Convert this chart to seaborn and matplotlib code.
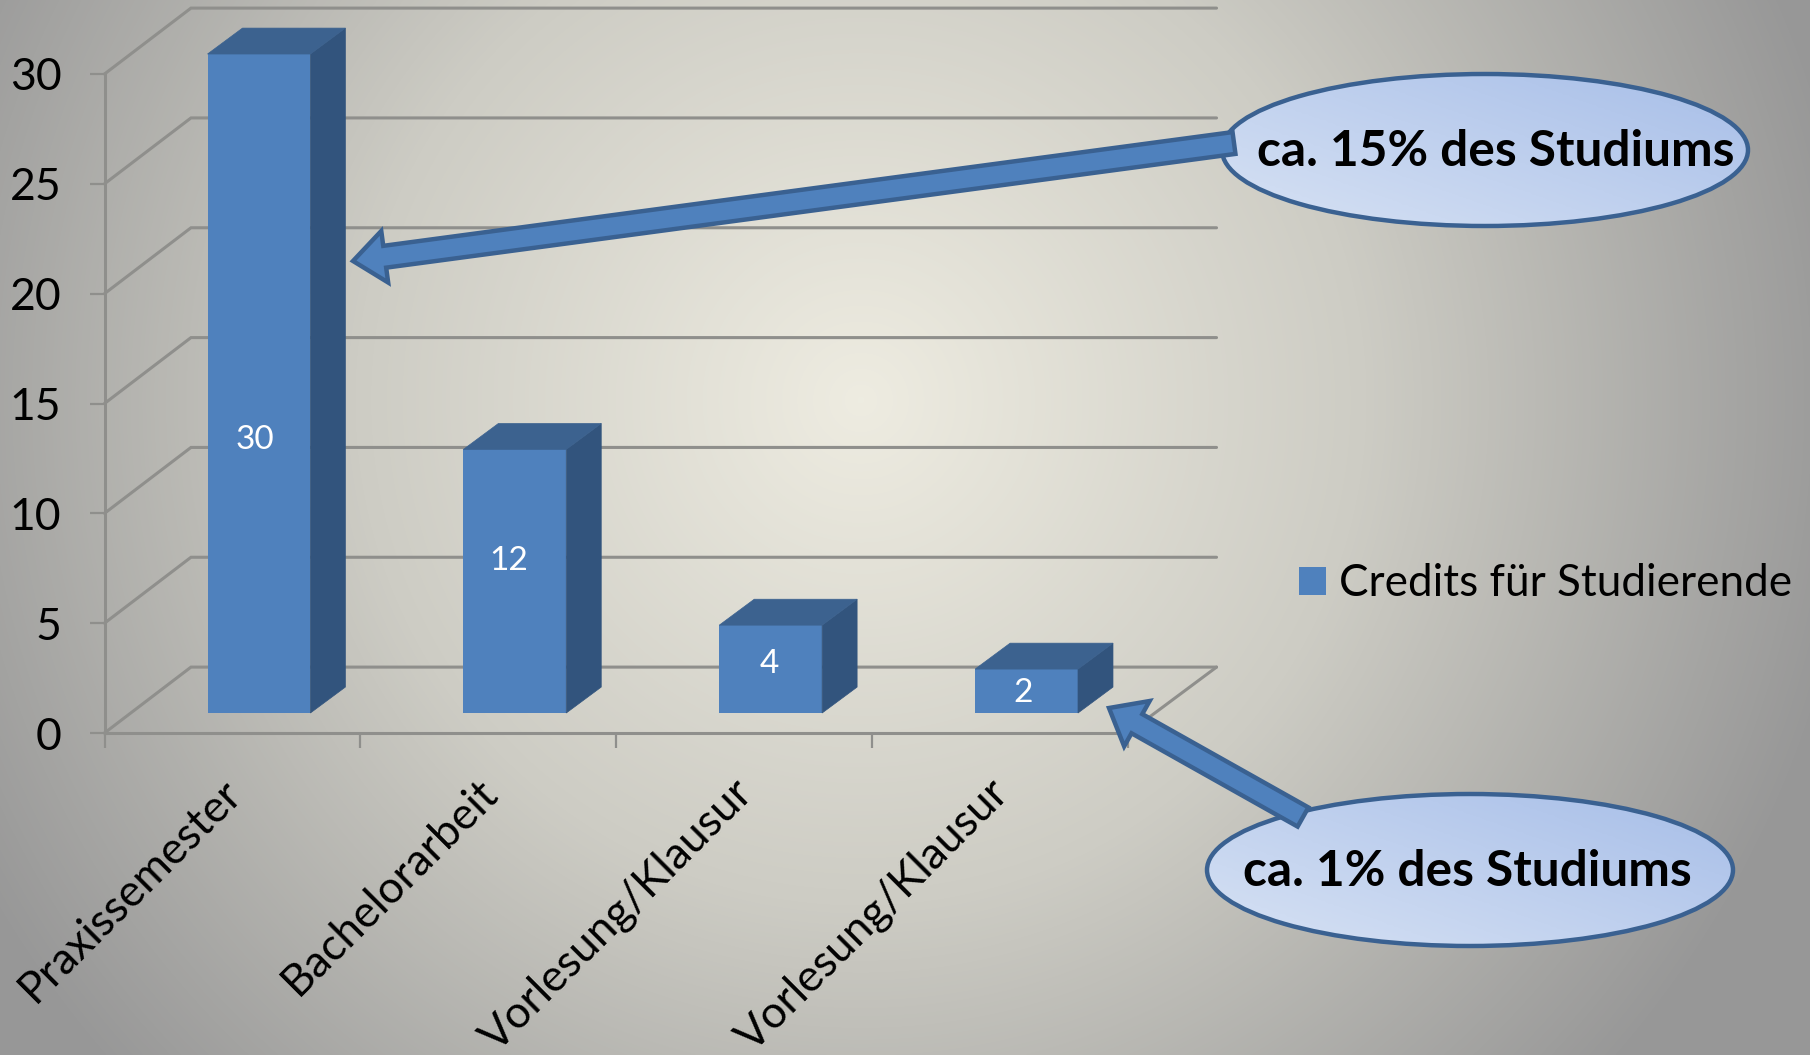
import numpy as np
import matplotlib
matplotlib.use('Agg')
import matplotlib.pyplot as plt
import matplotlib.patches as mpatches
from matplotlib.colors import LinearSegmentedColormap
import seaborn as sns

# chart values
categories = ['Praxissemester', 'Bachelorarbeit', 'Vorlesung/Klausur', 'Vorlesung/Klausur']
credits = [30, 12, 4, 2]
y_ticks = [0, 5, 10, 15, 20, 25, 30]
series_name = 'Credits für Studierende'
callouts = ['ca. 15% des Studiums', 'ca. 1% des Studiums']

W, H = 1810, 1055
FRONT = '#4F81BD'
SIDE = '#32547D'
TOP = '#3C628F'
EDGE = '#3A6191'
GRID = '#8F8F8C'

sns.set_theme(style='white')
plt.rcParams['font.family'] = ['Lato', 'DejaVu Sans']

fig = plt.figure(figsize=(W / 100, H / 100), dpi=100)

# background, radial gradient
bg = fig.add_axes([0, 0, 1, 1], zorder=-1)
yy, xx = np.mgrid[0:H, 0:W]
dist = np.hypot(xx - 860, yy - 400) / 1010
bg_cmap = LinearSegmentedColormap.from_list('bg', ['#EEECE1', '#CDCCC4', '#979797'])
bg.imshow(dist, cmap=bg_cmap, vmin=0, vmax=1, aspect='auto')
bg.axis('off')

# the front plane of the 3d chart
left, right, y0, y30 = 104.5, 1128, 733, 74
ax = fig.add_axes([left / W, 1 - y0 / H, (right - left) / W, (y0 - y30) / H])
ax.patch.set_alpha(0)

positions = np.arange(len(credits))
sns.barplot(x=positions, y=credits, color=FRONT, saturation=1, width=0.402,
            label=series_name, ax=ax, zorder=3, linewidth=0)
ax.set_xlim(-0.5, 3.5)
ax.set_ylim(0, 30)
ax.set_xlabel('')
ax.set_ylabel('')

# back wall and side wall grid
wall_dx, wall_dy = 0.338, 3.0
for v in y_ticks:
    ax.plot([-0.5, -0.5 + wall_dx, 3.5 + wall_dx + 0.008], [v, v + wall_dy, v + wall_dy],
            color=GRID, lw=2.2, clip_on=False, zorder=1, solid_joinstyle='miter')
ax.plot([3.5, 3.5 + wall_dx + 0.008], [0, wall_dy], color=GRID, lw=2.2, clip_on=False, zorder=1)

# move bars to the middle of the floor and add the depth faces
shift_x, shift_y = 0.1036, 0.91
depth_x, depth_y = 0.1367, 1.18
label_lift = [13.35, 7.85, 3.12, 1.8]
label_side = [-0.017, -0.024, -0.006, -0.012]
for patch, val, lift, side_x in zip(ax.patches, credits, label_lift, label_side):
    patch.set_x(patch.get_x() + shift_x)
    patch.set_y(patch.get_y() + shift_y)
    patch.set_clip_on(False)
    x1 = patch.get_x()
    x2 = x1 + patch.get_width()
    b = patch.get_y()
    t = b + patch.get_height()
    ax.add_patch(mpatches.Polygon([(x2, b), (x2 + depth_x, b + depth_y), (x2 + depth_x, t + depth_y), (x2, t)],
                                  fc=SIDE, ec=SIDE, lw=0.5, clip_on=False, zorder=3))
    ax.add_patch(mpatches.Polygon([(x1, t), (x1 + depth_x, t + depth_y), (x2 + depth_x, t + depth_y), (x2, t)],
                                  fc=TOP, ec=TOP, lw=0.5, clip_on=False, zorder=3))
    ax.text((x1 + x2) / 2 + side_x, lift, str(val), color='white', fontsize=24,
            ha='center', va='center', zorder=4)

# axes
sns.despine(ax=ax)
for side in ['left', 'bottom']:
    ax.spines[side].set_color(GRID)
    ax.spines[side].set_linewidth(2.2)
ax.set_yticks(y_ticks)
ax.set_yticklabels([str(v) for v in y_ticks])
ax.set_xticks(np.arange(len(credits) + 1) - 0.5)
ax.set_xticklabels([])
ax.set_xticks(positions - 0.047, minor=True)
ax.set_xticklabels(categories, minor=True, rotation=45, ha='right', va='top',
                   rotation_mode='anchor', fontsize=32, color='black')
ax.tick_params(axis='x', which='major', length=11, width=1.6, color=GRID, bottom=True)
ax.tick_params(axis='x', which='minor', length=0, pad=28, bottom=True)
ax.tick_params(axis='y', length=11, width=1.6, color=GRID, labelsize=32, labelcolor='black', pad=20, left=True)

ax.legend(loc='center left', bbox_to_anchor=(1299 / W, 1 - 584 / H), bbox_transform=fig.transFigure,
          frameon=False, fontsize=31.8, handlelength=0.6, handleheight=0.6, handletextpad=0.3,
          borderpad=0, borderaxespad=0, labelcolor='black')

# callouts, drawn in pixels of the figure
over = fig.add_axes([0, 0, 1, 1], zorder=5)
over.patch.set_alpha(0)
grad_cmap = LinearSegmentedColormap.from_list('callout', ['#D7E2F4', '#A7BEE8'])


def callout(cx, cy, w, h, text, nudge):
    ell = mpatches.Ellipse((cx, cy), w, h, fc='none', ec=EDGE, lw=3.2, zorder=3)
    over.add_patch(ell)
    gy, gx = np.mgrid[0:1:80j, 0:1:80j]
    img = over.imshow(gx * 0.55 + (1 - gy) * 0.45, cmap=grad_cmap, origin='upper', aspect='auto',
                      extent=(cx - w / 2, cx + w / 2, cy + h / 2, cy - h / 2), zorder=2)
    img.set_clip_path(ell)
    over.text(cx + nudge, cy + 1, text, fontsize=35.7, fontweight='bold', color='black',
              ha='center', va='center', zorder=6)


def arrow(x0, y0_, x1, y1_):
    over.add_patch(mpatches.FancyArrow(x0, y0_, x1 - x0, y1_ - y0_, width=22, head_width=52, head_length=32,
                                       length_includes_head=True, fc=FRONT, ec=EDGE, lw=3.2,
                                       joinstyle='miter', zorder=4))


callout(1485, 150, 526, 152, callouts[0], 11)
callout(1470, 870, 526, 152, callouts[1], -3)
arrow(1234, 143, 353, 261)
arrow(1303, 817, 1109, 708)

over.set_xlim(0, W)
over.set_ylim(H, 0)
over.axis('off')

fig.savefig('out.png', dpi=100)
